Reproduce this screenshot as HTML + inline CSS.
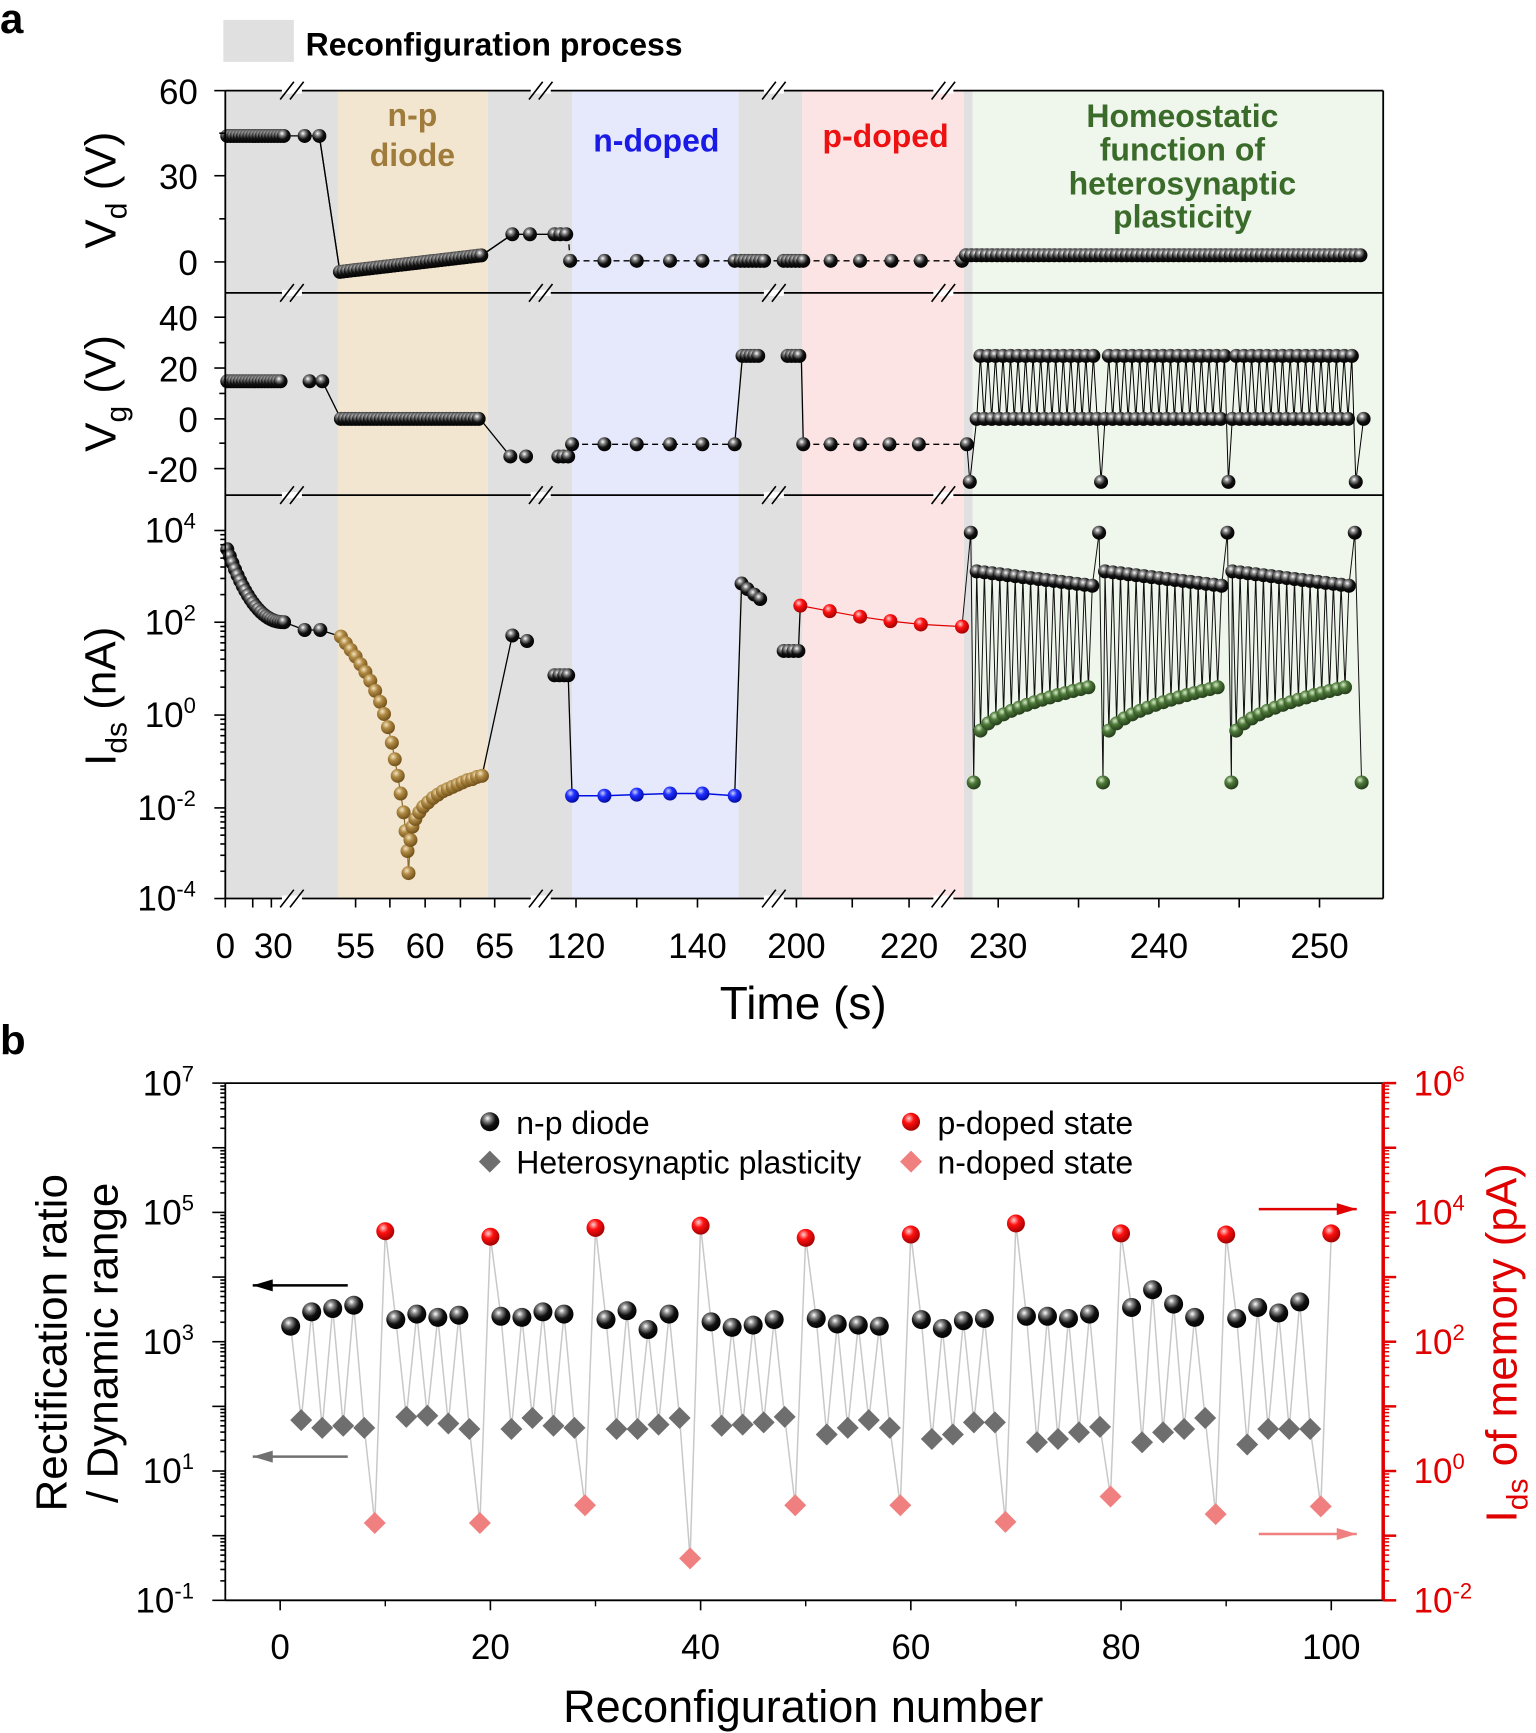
<!DOCTYPE html>
<html><head><meta charset="utf-8">
<style>
html,body{margin:0;padding:0;background:#fff;}
svg{display:block;font-family:"Liberation Sans",Arial,sans-serif;}
</style></head>
<body>
<svg id="s" xmlns="http://www.w3.org/2000/svg" width="1536" height="1733" viewBox="0 0 1536 1733">
<defs>
<radialGradient id="gk" cx="0.38" cy="0.32" r="0.7"><stop offset="0" stop-color="#fff"/><stop offset="0.25" stop-color="#888"/><stop offset="0.6" stop-color="#111"/><stop offset="1" stop-color="#000"/></radialGradient>
<radialGradient id="gt" cx="0.38" cy="0.32" r="0.7"><stop offset="0" stop-color="#f4e4c0"/><stop offset="0.4" stop-color="#b08a44"/><stop offset="1" stop-color="#6e4e18"/></radialGradient>
<radialGradient id="gb" cx="0.38" cy="0.32" r="0.7"><stop offset="0" stop-color="#c8d0ff"/><stop offset="0.4" stop-color="#2030ff"/><stop offset="1" stop-color="#0008a0"/></radialGradient>
<radialGradient id="gr" cx="0.38" cy="0.32" r="0.7"><stop offset="0" stop-color="#ffd0d0"/><stop offset="0.4" stop-color="#ff1010"/><stop offset="1" stop-color="#a00000"/></radialGradient>
<radialGradient id="gg" cx="0.38" cy="0.32" r="0.7"><stop offset="0" stop-color="#d8ecc8"/><stop offset="0.4" stop-color="#4e7a3a"/><stop offset="1" stop-color="#223a18"/></radialGradient>
</defs>
<g id="bg"></g><g id="ln"></g><g id="pt"></g><g id="fr"></g><g id="tx"></g>
</svg>
<script>
var NS="http://www.w3.org/2000/svg";
function X(v){return v*0.9796;} function Y(v){return v*1.1052;}
function el(g,t,a,txt){var e=document.createElementNS(NS,t);for(var k in a)e.setAttribute(k,a[k]);if(txt!==undefined)e.textContent=txt;document.getElementById(g).appendChild(e);return e;}
function rect(x1,y1,x2,y2,f){el('bg','rect',{x:X(x1),y:Y(y1),width:X(x2)-X(x1),height:Y(y2)-Y(y1),fill:f});}
function poly(pts,c,w,dash){var s=pts.map(function(p){return X(p[0]).toFixed(1)+','+Y(p[1]).toFixed(1);}).join(' ');var a={points:s,fill:'none',stroke:c,'stroke-width':w||1.3};if(dash)a['stroke-dasharray']=dash;el('ln','polyline',a);}
function ball(x,y,r,g){el('pt','circle',{cx:X(x),cy:Y(y),r:r,fill:'url(#'+g+')'});}
function diam(x,y,r,c){var cx=X(x),cy=Y(y);el('pt','polygon',{points:(cx-r)+','+cy+' '+cx+','+(cy-r)+' '+(cx+r)+','+cy+' '+cx+','+(cy+r),fill:c});}
function text(x,y,s,a){a=a||{};a.x=X(x);a.y=Y(y);var e=el('tx','text',a);e.innerHTML=s;return e;}
function line(x1,y1,x2,y2,c,w,g){el(g||'fr','line',{x1:X(x1),y1:Y(y1),x2:X(x2),y2:Y(y2),stroke:c||'#000','stroke-width':w||1.6});}

rect(230,82,345,813,'#e0e0e0');rect(345,82,498,813,'#f3e6d0');rect(498,82,584,813,'#e0e0e0');
rect(584,82,754,813,'#e6e8fb');rect(754,82,819,813,'#e0e0e0');rect(819,82,984,813,'#fce4e4');
rect(984,82,993,813,'#e0e0e0');rect(993,82,1412,813,'#eff6eb');
rect(228,18,300,56,'#e0e0e0');
var R0=7;
// Vd
var p=[];for(var x=232;x<=292;x+=3.2)p.push([x,123]);
p.push([311,123],[326,123]);
for(var x=347;x<=492;x+=3.7)p.push([x,246-(x-347)/145*15]);
p.push([523,212],[541,212],[566,212],[572,212],[578,212]);
poly(p.slice(p.length-48),'#000',1.3);
poly([[326,123],[347,246]],'#000',1.3);poly([[492,231],[523,212]],'#000',1.3);
p.forEach(function(q){ball(q[0],q[1],R0,'gk');});
var q2=[[580,212],[582,236],[617,236],[650,236],[684,236],[717,236],[750,236]];
for(var x=756;x<=782;x+=4)q2.push([x,236]);
for(var x=800;x<=820;x+=4)q2.push([x,236]);
q2.push([848,236],[878,236],[910,236],[940,236],[982,236]);
poly(q2,'#000',1.3,'6,4');q2.slice(1).forEach(function(q){ball(q[0],q[1],R0,'gk');});
var q3=[[982,236]];for(var x=986;x<=1392;x+=5.3)q3.push([x,231]);
poly(q3,'#000',1.3);q3.slice(1).forEach(function(q){ball(q[0],q[1],R0,'gk');});

// Vg
var g=[];for(var x=232;x<=288;x+=3.2)g.push([x,345]);g.push([316,345],[329,345]);
poly([[329,345],[348,379]],'#000',1.3);
var g2=[];for(var x=348;x<=490;x+=3.7)g2.push([x,379]);
poly(g2,'#000',1.3);poly([[490,379],[521,413]],'#000',1.3);
g=g.concat(g2);g.push([521,413],[537,413],[570,413],[575,413],[580,413]);
g.forEach(function(q){ball(q[0],q[1],R0,'gk');});
var g3=[[584,402],[617,402],[650,402],[684,402],[717,402],[750,402]];
poly([[580,413],[584,402]],'#000',1.3);poly(g3,'#000',1.3,'6,4');
poly([[750,402],[758,322]],'#000',1.3);
var g4=[];for(var x=758;x<=775;x+=4)g4.push([x,322]);for(var x=804;x<=818;x+=4)g4.push([x,322]);
poly([[818,322],[820,402]],'#000',1.3);
var g5=[[820,402],[848,402],[878,402],[908,402],[938,402],[987,402]];poly(g5,'#000',1.3,'6,4');
g3.concat(g4).concat(g5).forEach(function(q){ball(q[0],q[1],R0,'gk');});
var hv=[[987,402],[990,436]];var groups=[[997,1120],[1128,1250],[1258,1380]];var spikes=[1124,1254,1384];
groups.forEach(function(gr,i){var n=Math.round((gr[1]-gr[0])/3.9);for(var k=0;k<=n;k++){var x=gr[0]+k*(gr[1]-gr[0])/n;hv.push([x,k%2?322:379]);}hv.push([spikes[i],436]);});
hv.push([1392,379]);poly(hv,'#000',1);hv.slice(1).forEach(function(q){ball(q[0],q[1],R0,'gk');});

// Ids
var d=[];for(var k=0;k<=22;k++){var t=k/22;d.push([232+58*t,497+66*(1-Math.pow(1-t,2.2))]);}
d.push([311,570],[327,570]);
poly(d,'#000',1.3);d.forEach(function(q){ball(q[0],q[1],R0,'gk');});
var tan=[[348,576],[353,582],[358,588],[363,594],[368,601],[373,608],[378,616],[383,625],[388,635],[392,646],[396,658],[400,672],[403,687],[406,702],[409,718],[412,735],[414,752],[416,770],[417,790],[419,760],[421,748],[424,741],[428,735],[432,730],[437,726],[442,722],[447,719],[452,716],[457,714],[462,712],[467,710],[472,708],[477,706],[482,705],[487,703],[492,702]];
poly([[327,570],[348,576]],'#000',1.3);poly(tan,'#8a6a30',1.2);poly([[492,702],[523,575]],'#000',1.3);
tan.forEach(function(q){ball(q[0],q[1],R0,'gt');});
var d2=[[523,575],[538,580]];poly(d2,'#000',1.3);d2.forEach(function(q){ball(q[0],q[1],R0,'gk');});
[566,571,576,580].forEach(function(x){ball(x,611,R0,'gk');});
var bl=[[584,720],[617,720],[650,719],[684,718],[717,718],[750,720]];
poly([[580,611],[584,720]],'#000',1.3);poly(bl,'#0010e0',1.5);poly([[750,720],[757,528]],'#000',1.3);
poly([[757,528],[763,533],[770,538],[776,542]],'#000',1.3);
bl.forEach(function(q){ball(q[0],q[1],R0,'gb');});
[[757,528],[763,533],[770,538],[776,542]].forEach(function(q){ball(q[0],q[1],R0,'gk');});
[800,805,810,815].forEach(function(x){ball(x,589,R0,'gk');});
var rd=[[817,548],[847,553],[878,558],[909,562],[940,565],[982,567]];
poly([[815,589],[817,548]],'#000',1.3);poly(rd,'#e00000',1.2);rd.forEach(function(q){ball(q[0],q[1],R0,'gr');});
var hi=[[982,567],[991,482],[994,708]];var types=['k','k','g'];
var gi=[[997,1115,1122,1126],[1128,1247,1253,1257],[1258,1377,1383,1390]];
gi.forEach(function(gr,i){var n=30;for(var k=0;k<=n;k++){var t=k/n;var x=gr[0]+t*(gr[1]-gr[0]);if(k%2==0){hi.push([x,517+13*t]);types.push('k');}else{hi.push([x,670-49*Math.pow(t,0.5)]);types.push('g');}}
hi.push([gr[2],482]);types.push('k');hi.push([gr[3],708]);types.push('g');});
poly(hi,'#111',1);
hi.forEach(function(q,i){if(i==0)return;ball(q[0],q[1],R0,types[i]=='k'?'gk':'gg');});

// frames
[82,265,448,813].forEach(function(y){line(230,y,1412,y,'#000',1.8);});
line(230,82,230,813,'#000',1.8);line(1412,82,1412,813,'#000',1.8);
[298,552,790,963].forEach(function(bx){[82,265,448,813].forEach(function(by){
 el('fr','rect',{x:X(bx)-10,y:Y(by)-3,width:20,height:6,fill:'#fff'});
 [-5,5].forEach(function(o){line(bx+o-7,by+8,bx+o+7,by-8,'#000',1.6);});});});
function ltick(x,y,len){el('fr','line',{x1:X(x)-len,y1:Y(y),x2:X(x),y2:Y(y),stroke:'#000','stroke-width':1.6});}
[82,120.5,159,198,237].forEach(function(y,i){ltick(230,y,i%2?6:11);});
[287,310,333,356,379,401,424].forEach(function(y,i){ltick(230,y,i%2?6:11);});
var dec=[480,563,647,731,813];
for(var i=0;i<4;i++){var a=dec[i],b=dec[i+1];ltick(230,a,11);for(var m=2;m<10;m++){ltick(230,b-(b-a)*Math.log10(m),5);}}
ltick(230,813,11);
[230,258,277,363,398,434,470,505,588,650,712,813,870,928,1019,1101,1183,1265,1347].forEach(function(x){el('fr','line',{x1:X(x),y1:Y(813),x2:X(x),y2:Y(813)+9,stroke:'#000','stroke-width':1.6});});
var ts={'font-size':35,'text-anchor':'end'};
text(202,94,'60',ts);text(202,171,'30',ts);text(202,249,'0',ts);
text(202,299,'40',ts);text(202,345,'20',ts);text(202,391,'0',ts);text(202,436,'-20',ts);
var sup=['4','2','0','-2','-4'];
dec.forEach(function(y,i){text(200,y+11,'10<tspan dy="-14" font-size="22">'+sup[i]+'</tspan>',ts);});
var xl=[[230,'0'],[279,'30'],[363,'55'],[434,'60'],[505,'65'],[588,'120'],[712,'140'],[813,'200'],[928,'220'],[1019,'230'],[1183,'240'],[1347,'250']];
xl.forEach(function(a){text(a[0],867,a[1],{'font-size':35,'text-anchor':'middle'});});
text(820,922,'Time (s)',{'font-size':46,'text-anchor':'middle'});
function ytitle(x,y,s,c,fs){var e=el('tx','text',{x:0,y:0,transform:'translate('+X(x)+','+Y(y)+') rotate(-90)','text-anchor':'middle','font-size':fs||44,fill:c||'#000'});e.innerHTML=s;}
ytitle(118,172,'V<tspan dy="11" font-size="30">d</tspan><tspan dy="-11"> (V)</tspan>');
ytitle(118,356,'V<tspan dy="11" font-size="30">g</tspan><tspan dy="-11"> (V)</tspan>');
ytitle(118,630,'I<tspan dy="11" font-size="30">ds</tspan><tspan dy="-11"> (nA)</tspan>');
text(0,30,'a',{'font-size':42,'font-weight':'bold'});
text(312,50,'Reconfiguration process',{'font-size':32,'font-weight':'bold'});
var tb={'font-size':32,'font-weight':'bold','text-anchor':'middle'};
text(421,114,'n-p',Object.assign({fill:'#a07c3c'},tb));text(421,150,'diode',Object.assign({fill:'#a07c3c'},tb));
text(670,137,'n-doped',Object.assign({fill:'#1a1ae6'},tb));
text(904,133,'p-doped',Object.assign({fill:'#ee1111'},tb));
var gh=Object.assign({fill:'#3b6b2a'},tb);
text(1207,115,'Homeostatic',gh);text(1207,145,'function of',gh);text(1207,176,'heterosynaptic',gh);text(1207,206,'plasticity',gh);

// Panel b
line(230,980,1412,980,'#000',1.8);line(230,1448,1412,1448,'#000',1.8);line(230,980,230,1448,'#000',1.8);
line(1412,980,1412,1448,'#e00000',3.5);
var bd=[980,1038.5,1097,1155.5,1214,1272.5,1331,1389.5,1448];
for(var i=0;i<8;i++){var a=bd[i],b=bd[i+1];ltick(230,a,13);for(var m=2;m<10;m++)ltick(230,b-(b-a)*Math.log10(m),5);
 el('fr','line',{x1:X(1412),y1:Y(a),x2:X(1412)+13,y2:Y(a),stroke:'#e00000','stroke-width':2.5});
 for(var m=2;m<10;m++){var yy=b-(b-a)*Math.log10(m);el('fr','line',{x1:X(1412),y1:Y(yy),x2:X(1412)+6,y2:Y(yy),stroke:'#e00000','stroke-width':1.5});}}
ltick(230,1448,13);el('fr','line',{x1:X(1412),y1:Y(1448),x2:X(1412)+13,y2:Y(1448),stroke:'#e00000','stroke-width':2.5});
var ls=['7','5','3','1','-1'];[980,1097,1214,1331,1448].forEach(function(y,i){text(198,y+11,'10<tspan dy="-14" font-size="22">'+ls[i]+'</tspan>',ts);});
var rs=['6','4','2','0','-2'];[980,1097,1214,1331,1448].forEach(function(y,i){text(1443,y+11,'10<tspan dy="-14" font-size="22">'+rs[i]+'</tspan>',{'font-size':35,fill:'#e00000'});});
[0,20,40,60,80,100].forEach(function(n){var x=286+10.73*n;el('fr','line',{x1:X(x),y1:Y(1448),x2:X(x),y2:Y(1448)+10,stroke:'#000','stroke-width':1.6});text(x,1501,''+n,{'font-size':35,'text-anchor':'middle'});});
[10,30,50,70,90].forEach(function(n){var x=286+10.73*n;el('fr','line',{x1:X(x),y1:Y(1448),x2:X(x),y2:Y(1448)+6,stroke:'#000','stroke-width':1.4});});
text(820,1558,'Reconfiguration number',{'font-size':45,'text-anchor':'middle'});
text(0,954,'b',{'font-size':42,'font-weight':'bold'});
ytitle(68,1215,'Rectification ratio',null,44);ytitle(120,1215,'/ Dynamic range',null,44);
ytitle(1548,1215,'I<tspan dy="11" font-size="30">ds</tspan><tspan dy="-11"> of memory (pA)</tspan>','#e00000',44);
var G=[
[[1200,1187,1184,1181],[1285,1292,1290,1292],1378,1114],
[[1194,1189,1192,1190],[1282,1281,1288,1293],1378,1119],
[[1191,1192,1187,1189],[1293,1283,1290,1292],1362,1111],
[[1194,1186,1203,1189],[1293,1293,1289,1283],1410,1109],
[[1196,1201,1199,1194],[1290,1289,1287,1282],1362,1120],
[[1193,1198,1199,1200],[1298,1292,1285,1292],1362,1117],
[[1194,1202,1195,1193],[1302,1298,1287,1287],1377,1107],
[[1191,1191,1193,1189],[1305,1302,1296,1291],1354,1116],
[[1183,1167,1180,1192],[1305,1296,1293,1283],1370,1117],
[[1193,1183,1188,1178],[1307,1293,1293,1293],1363,1116]];
var all=[];
G.forEach(function(gr,i){for(var j=0;j<4;j++){all.push([i*10+1+2*j,gr[0][j],'k']);all.push([i*10+2+2*j,gr[1][j],'d']);}all.push([i*10+9,gr[2],'p']);all.push([i*10+10,gr[3],'r']);});
poly(all.map(function(a){return [286+10.73*a[0],a[1]];}),'#c8c8c8',1.5);
all.forEach(function(a){var x=286+10.73*a[0];if(a[2]=='k')ball(x,a[1],9.5,'gk');else if(a[2]=='r')ball(x,a[1],9,'gr');else if(a[2]=='d')diam(x,a[1],11,'#6e6e6e');else diam(x,a[1],11,'#f08080');});
ball(500,1015,9.5,'gk');text(527,1026,'n-p diode',{'font-size':32});
diam(500,1051,11,'#6e6e6e');text(527,1062,'Heterosynaptic plasticity',{'font-size':32});
ball(930,1015,9,'gr');text(957,1026,'p-doped state',{'font-size':32});
diam(930,1051,11,'#f08080');text(957,1062,'n-doped state',{'font-size':32});
function arrow(x1,x2,y,c){line(x1,y,x2,y,c,2.5,'tx');var d=x2>x1?1:-1;var tx=X(x2),ty=Y(y);el('tx','polygon',{points:tx+','+ty+' '+(tx-d*20)+','+(ty-6)+' '+(tx-d*20)+','+(ty+6),fill:c});}
arrow(355,258,1163,'#000');arrow(355,258,1318,'#707070');arrow(1285,1385,1094,'#e00000');arrow(1285,1385,1388,'#f08080');
</script>
</body></html>
